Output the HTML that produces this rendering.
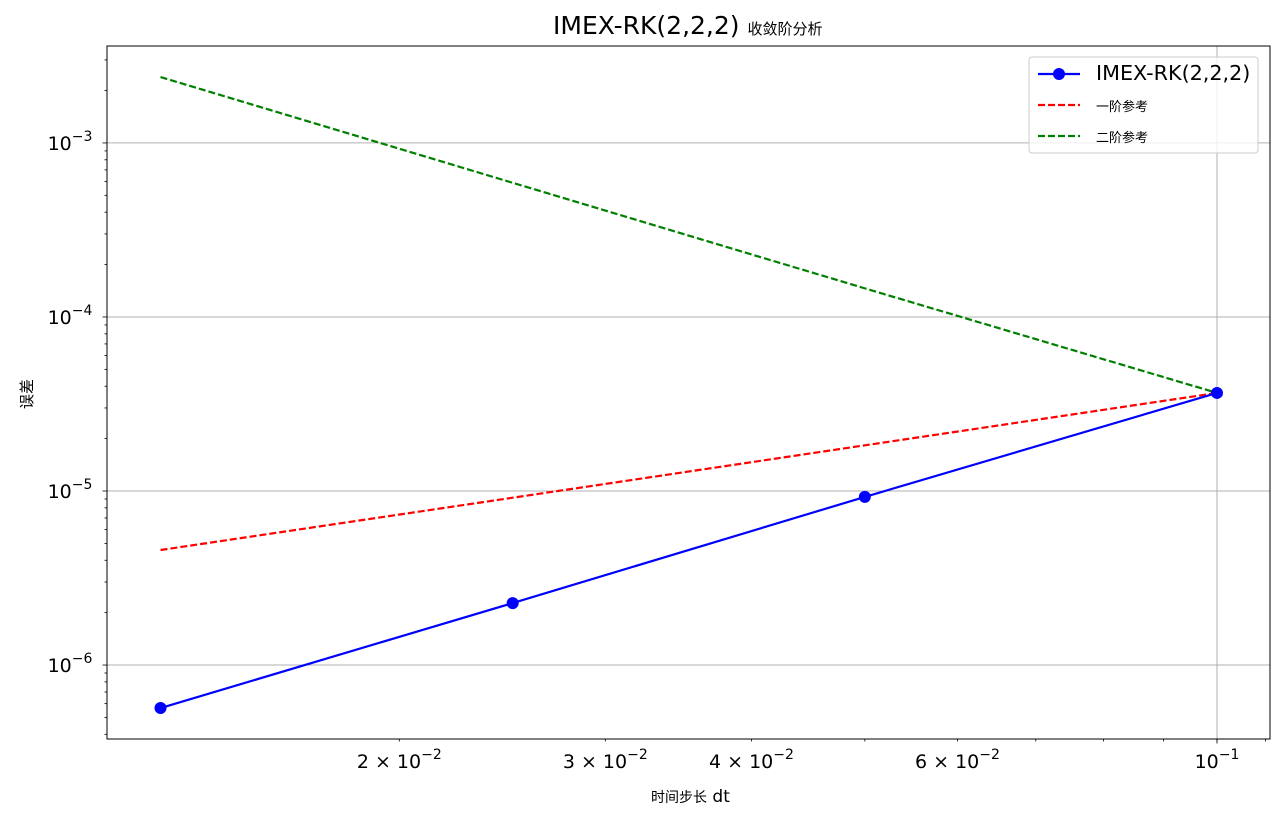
<!DOCTYPE html>
<html><head><meta charset="utf-8"><style>
html,body{margin:0;padding:0;background:#fff;}
svg{display:block;font-family:"DejaVu Sans","Liberation Sans","Noto Sans CJK SC",sans-serif;}
</style></head><body>
<svg id="chart" width="1284" height="821" xmlns="http://www.w3.org/2000/svg"></svg>
<script>
const dts = [0.0125, 0.025, 0.05, 0.1];
const errors = [5.66e-7, 2.27e-6, 9.25e-6, 3.66e-5];
const firstOrderRef = [4.58e-6, 9.15e-6, 1.83e-5, 3.66e-5];
const secondOrderRef = [2.39e-3, 5.9e-4, 1.46e-4, 3.66e-5];
const xTickVals = [0.02, 0.03, 0.04, 0.06, 0.1];
const xTickLabels = [["2","−2"],["3","−2"],["4","−2"],["6","−2"],[null,"−1"]];
const yTickExps = [-3, -4, -5, -6];

const L=107,R=1270,T=46,B=739;
const xmin=Math.log10(0.01125), xmax=Math.log10(0.1110);
const ymin=-6.425, ymax=-2.443;
const X=v=>L+(Math.log10(v)-xmin)/(xmax-xmin)*(R-L);
const Y=v=>B-(Math.log10(v)-ymin)/(ymax-ymin)*(B-T);
const svg=document.getElementById('chart');
const NS='http://www.w3.org/2000/svg';
function mk(tag,attrs,parent){const e=document.createElementNS(NS,tag);for(const k in attrs)e.setAttribute(k,attrs[k]);(parent||svg).appendChild(e);return e;}

const grid=mk('g',{});


mk('line',{x1:X(0.1),x2:X(0.1),y1:T,y2:B,stroke:'#b0b0b0','stroke-width':1},grid);
yTickExps.forEach(e=>{mk('line',{x1:L,x2:R,y1:Y(Math.pow(10,e)),y2:Y(Math.pow(10,e)),stroke:'#b0b0b0','stroke-width':1},grid);});

const xax=mk('g',{});


for(let k=2;k<=11;k++){const v=k/100;if(v>0.111)break;mk('line',{x1:X(v),x2:X(v),y1:B,y2:B+2.5,stroke:'#000','stroke-width':0.8},xax);}
mk('line',{x1:X(0.1),x2:X(0.1),y1:B,y2:B+4.5,stroke:'#000','stroke-width':0.8},xax);
xTickVals.forEach((v,i)=>{
  const t=mk('text',{x:X(v),y:B+29,'text-anchor':'middle','font-size':19,fill:'#000'},xax);
  
  
  const lab=xTickLabels[i];
  if(lab[0]){t.textContent=lab[0]+' × 10';}else{t.textContent='10';}
  const s=mk('tspan',{dy:-9,'font-size':14},t);s.textContent=lab[1];
});
const yax=mk('g',{});


for(let e=-7;e<=-3;e++){for(let m=1;m<10;m++){const v=m*Math.pow(10,e);const lv=Math.log10(v);if(lv<ymin||lv>ymax)continue;mk('line',{x1:L,x2:L-(m==1?4.5:2.5),y1:Y(v),y2:Y(v),stroke:'#000','stroke-width':0.8},yax);}}
yTickExps.forEach(e=>{
  const t=mk('text',{x:L-37,y:Y(Math.pow(10,e))+7,'text-anchor':'middle','font-size':19,fill:'#000'},yax);
  
  
  t.textContent='10';
  const s=mk('tspan',{dy:-9,'font-size':14},t);s.textContent='−'+(-e);
});

function line(vals,color,dash,name){
  const pts=dts.map((d,i)=>X(d)+','+Y(vals[i])).join(' ');
  const p=mk('polyline',{points:pts,fill:'none',stroke:color,'stroke-width':2.2});
  if(dash)p.setAttribute('stroke-dasharray',dash);
  
  
}
line(firstOrderRef,'#ff0000','7,3','first-order-reference-line');
line(secondOrderRef,'#008000','7,3','second-order-reference-line');
line(errors,'#0000ff',null,'imex-error-line');
dts.forEach((d,i)=>{const c=mk('circle',{cx:X(d),cy:Y(errors[i]),r:6,fill:'#0000ff'});
  
  });

const fr=mk('rect',{x:L,y:T,width:R-L,height:B-T,fill:'none',stroke:'#000','stroke-width':1});



let t=mk('text',{x:553,y:34,'font-size':25,fill:'#000'});
t.textContent='IMEX-RK(2,2,2) ';
let ts=mk('tspan',{'font-size':15},t);ts.textContent='收敛阶分析';

t=mk('text',{x:651,y:802,'font-size':14,fill:'#000'});
t.textContent='时间步长';
ts=mk('tspan',{'font-size':17},t);ts.textContent=' dt';

t=mk('text',{x:32,y:394,'text-anchor':'middle','font-size':15,fill:'#000',transform:'rotate(-90 32 394)'});
t.textContent='误差';


const lg=mk('g',{});


mk('rect',{x:1029,y:57,width:229,height:96,rx:3,fill:'#fff','fill-opacity':0.8,stroke:'#cccccc'},lg);
const entries=[['IMEX-RK(2,2,2)','#0000ff',null,true,20.7],['一阶参考','#ff0000','7,3',false,13],['二阶参考','#008000','7,3',false,13]];
entries.forEach((e,i)=>{
  const y=74+i*31;
  const l=mk('line',{x1:1038,x2:1080,y1:y,y2:y,stroke:e[1],'stroke-width':2.2},lg);
  if(e[2])l.setAttribute('stroke-dasharray',e[2]);
  if(e[3])mk('circle',{cx:1059,cy:y,r:6,fill:e[1]},lg);
  const tx=mk('text',{x:1096,y:y+6,'font-size':e[4],fill:'#000'},lg);
  tx.textContent=e[0];
  
  
});
</script>
</body></html>
